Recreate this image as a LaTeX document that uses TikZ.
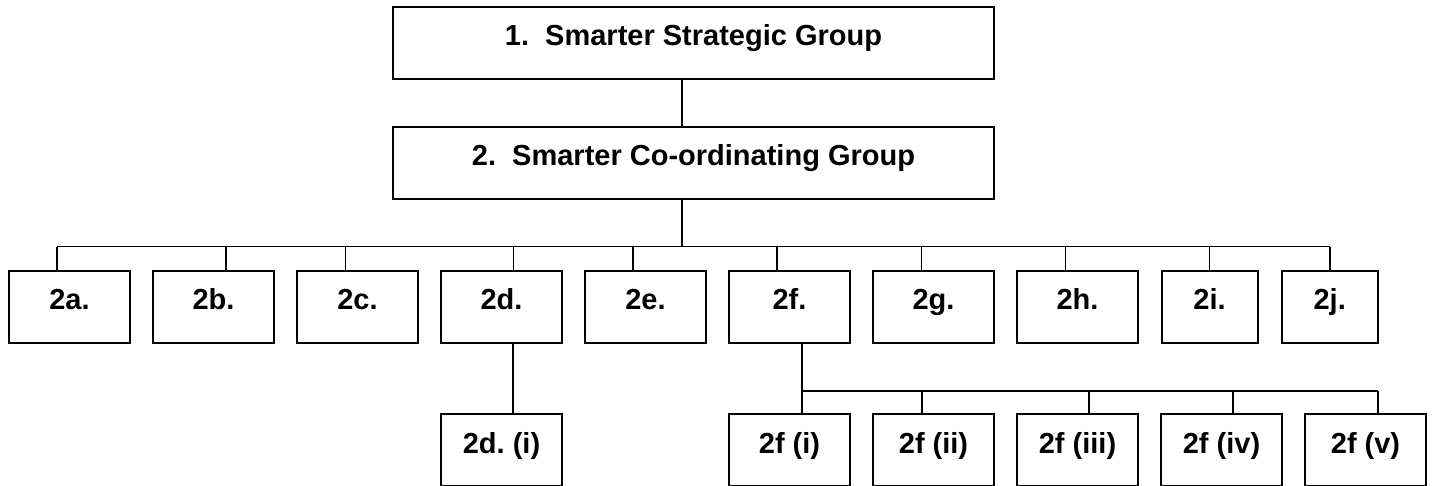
\documentclass[tikz,border=0pt]{standalone}
\usepackage{fontspec}
\setmainfont{Liberation Sans}
\frenchspacing

\begin{document}
\begin{tikzpicture}[x=0.5pt, y=-0.5pt, line width=0.8pt,
	box/.style={draw, line width=1pt, inner sep=0pt, text height=19.5pt, text depth=16.5pt,
		minimum width=60.5pt, font=\fontsize{14.5}{17}\selectfont\bfseries},
	head/.style={box, minimum width=300.5pt},
	slim/.style={box, minimum width=48pt}]
	\useasboundingbox (0,0) rectangle (1433,486);

	\node[head] (1) at (693.5, 42.7) {1.\ \ Smarter Strategic Group};
	\node[head] (2) at (693.5, 162.7) {2.\ \ Smarter Co-ordinating Group};

	\node[box] (2a) at (69.5, 306.7) {2a.};
	\node[box] (2b) at (213.5, 306.7) {2b.};
	\node[box] (2c) at (357.5, 306.7) {2c.};
	\node[box] (2d) at (501.5, 306.7) {2d.};
	\node[box] (2e) at (645.5, 306.7) {2e.};
	\node[box] (2f) at (789.5, 306.7) {2f.};
	\node[box] (2g) at (933.5, 306.7) {2g.};
	\node[box] (2h) at (1077.5, 306.7) {2h.};
	\node[slim] (2i) at (1209.5, 306.7) {2i.};
	\node[slim] (2j) at (1329.7, 306.7) {2j.};

	\node[box] (2di) at (501.5, 450.3) {2d. (i)};
	\node[box] (2fi) at (789.5, 450.3) {2f (i)};
	\node[box] (2fii) at (933.5, 450.3) {2f (ii)};
	\node[box] (2fiii) at (1077.5, 450.3) {2f (iii)};
	\node[box] (2fiv) at (1221.5, 450.3) {2f (iv)};
	\node[box] (2fv) at (1365.5, 450.3) {2f (v)};

	\coordinate (bus) at (681.8, 246.5);
	\coordinate (sub) at (802, 390.7);

	\draw ([xshift=-5.85pt]1.south) -- ([xshift=-5.85pt]2.north);
	\draw ([xshift=-5.85pt]2.south) -- (bus);
	\draw ([xshift=-6.25pt]2a.north |- bus) -- (2j.north |- bus);
	\foreach \n/\d in {2a/-12.5, 2b/12.5, 2c/-12, 2d/12, 2e/-12.5, 2f/-12.5, 2g/-12, 2h/-12, 2i/0, 2j/0}
		\draw ([xshift=\d*0.5pt]\n.north) -- ([xshift=\d*0.5pt]\n.north |- bus);

	\draw ([xshift=5.75pt]2d.south) -- ([xshift=5.75pt]2di.north);
	\draw ([xshift=6.25pt]2f.south) -- ([xshift=6.25pt]2fi.north);
	\draw (sub) -- ([xshift=6.25pt]2fv.north |- sub);
	\foreach \n/\d in {2fii/-11.5, 2fiii/11.5, 2fiv/11.5, 2fv/12.5}
		\draw ([xshift=\d*0.5pt]\n.north) -- ([xshift=\d*0.5pt]\n.north |- sub);
\end{tikzpicture}
\end{document}
